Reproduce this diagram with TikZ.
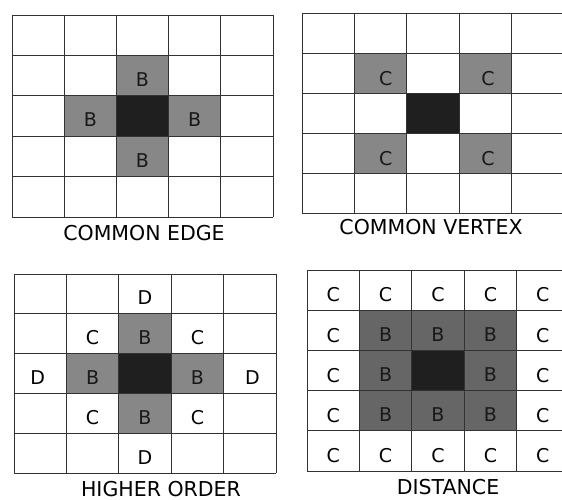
\documentclass[tikz,border=0pt]{standalone}
\usepackage{fontspec}
\setmainfont{DejaVu Sans}
\begin{document}
\begin{tikzpicture}[x=1pt,y=-1pt,
  gridline/.style={draw=black!80,line width=0.9pt},
  darkcell/.style={fill=black!88},
  midcell/.style={fill=black!47},
  ringcell/.style={fill=black!60},
  letter/.style={font=\fontsize{19}{19}\selectfont,text=black,inner sep=0pt},
  shadedletter/.style={font=\fontsize{19}{19}\selectfont,text=black!90,inner sep=0pt},
  caption/.style={font=\fontsize{20.5}{20.5}\selectfont,inner sep=0pt}]
\useasboundingbox (0,0) rectangle (562,500);
\clip (0,0) rectangle (562,500);

% ---------- Panel 1: COMMON EDGE ----------
\begin{scope}[shift={(12,15)},x=52.2pt,y=-40.4pt]
  \fill[darkcell] (2,2) rectangle (3,3);
  \foreach \i/\j in {2/1,1/2,3/2,2/3} \fill[midcell] (\i,\j) rectangle ++(1,1);
  \foreach \k in {0,...,5} {\draw[gridline] (\k,0) -- (\k,5); \draw[gridline] (0,\k) -- (5,\k);}
  \node[shadedletter] (a1) at (2.5,1.6) {B};
  \node[shadedletter] (a2) at (1.5,2.6) {B};
  \node[shadedletter] (a3) at (3.5,2.6) {B};
  \node[shadedletter] (a4) at (2.5,3.6) {B};
\end{scope}
\node[caption] (cap1) at (144,233) {COMMON EDGE};

% ---------- Panel 2: COMMON VERTEX ----------
\begin{scope}[shift={(302,13)},x=52.4pt,y=-40pt]
  \fill[darkcell] (2,2) rectangle (3,3);
  \foreach \i/\j in {1/1,3/1,1/3,3/3} \fill[midcell] (\i,\j) rectangle ++(1,1);
  \foreach \k in {0,...,5} {\draw[gridline] (\k,0) -- (\k,5); \draw[gridline] (0,\k) -- (5.2,\k);}
  \node[shadedletter] (b1) at (1.6,1.65) {C};
  \node[shadedletter] (b2) at (3.55,1.65) {C};
  \node[shadedletter] (b3) at (1.6,3.65) {C};
  \node[shadedletter] (b4) at (3.55,3.65) {C};
\end{scope}
\node[caption] (cap2) at (431,227) {COMMON VERTEX};

% ---------- Panel 3: HIGHER ORDER ----------
\begin{scope}[shift={(14,274)},x=52.4pt,y=-39.8pt]
  \fill[darkcell] (2,2) rectangle (3,3);
  \foreach \i/\j in {2/1,1/2,3/2,2/3} \fill[midcell] (\i,\j) rectangle ++(1,1);
  \foreach \k in {0,...,5} {\draw[gridline] (\k,0) -- (\k,5); \draw[gridline] (0,\k) -- (5,\k);}
  \node[shadedletter] (c1) at (2.5,1.6) {B};
  \node[shadedletter] (c2) at (1.5,2.6) {B};
  \node[shadedletter] (c3) at (3.5,2.6) {B};
  \node[shadedletter] (c4) at (2.5,3.6) {B};
  \node[letter] (c5) at (1.5,1.6) {C};
  \node[letter] (c6) at (3.5,1.6) {C};
  \node[letter] (c7) at (1.5,3.6) {C};
  \node[letter] (c8) at (3.5,3.6) {C};
  \node[letter] (c9) at (2.5,0.6) {D};
  \node[letter] (c10) at (0.45,2.6) {D};
  \node[letter] (c11) at (4.55,2.6) {D};
  \node[letter] (c12) at (2.5,4.6) {D};
\end{scope}
\node[caption] (cap3) at (161,489) {HIGHER ORDER};

% ---------- Panel 4: DISTANCE ----------
\begin{scope}[shift={(307,270)},x=52.4pt,y=-40.2pt]
  \fill[ringcell] (1,1) rectangle (4,4);
  \fill[darkcell] (2,2) rectangle (3,3);
  \foreach \k in {0,...,5} {\draw[gridline] (\k,0) -- (\k,5); \draw[gridline] (0,\k) -- (5.2,\k);}
  \foreach \i/\j [count=\k] in {1/1,2/1,3/1,1/2,3/2,1/3,2/3,3/3}
    \node[shadedletter] (d\k) at (\i+0.5,\j+0.6) {B};
  \foreach \i/\j [count=\k] in {0/0,1/0,2/0,3/0,4/0,0/1,4/1,0/2,4/2,0/3,4/3,0/4,1/4,2/4,3/4,4/4}
    \node[letter] (e\k) at (\i+0.5,\j+0.62) {C};
\end{scope}
\node[caption] (cap4) at (448,487) {DISTANCE};
\end{tikzpicture}
\end{document}
